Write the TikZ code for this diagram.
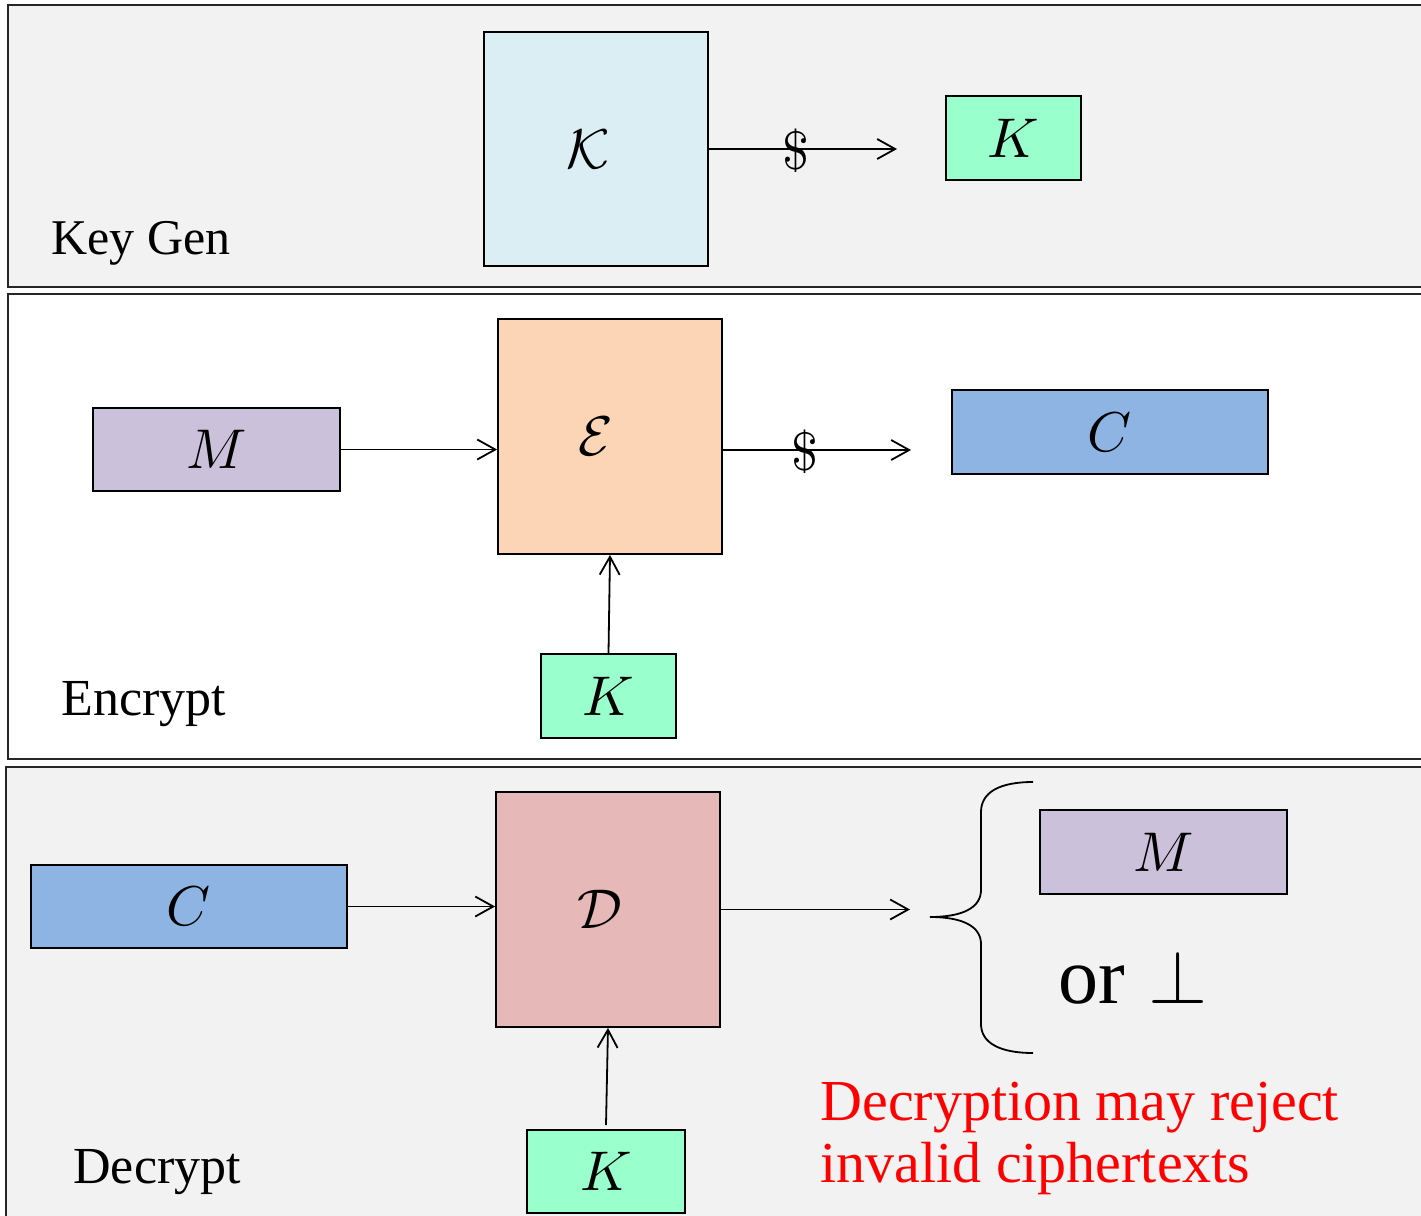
\RequirePackage{fix-cm}
\documentclass[tikz,border=0pt]{standalone}
\usepackage[no-math]{fontspec}
\usepackage{graphicx}
\setmainfont{Liberation Serif}
\usetikzlibrary{arrows.meta}

\definecolor{panelgray}{HTML}{F2F2F2}
\definecolor{kgenblue}{HTML}{DBEEF4}
\definecolor{keygreen}{HTML}{99FFCC}
\definecolor{msgpurple}{HTML}{CCC1DA}
\definecolor{encorange}{HTML}{FBD5B5}
\definecolor{ctblue}{HTML}{8EB4E3}
\definecolor{decpink}{HTML}{E6B9B8}

% math symbols drawn from the 10pt design size, enlarged
\newcommand{\bigsym}[2][2.8]{\scalebox{#1}{$#2$}}

\tikzset{
  panel/.style={draw=black!85, line width=1pt},
  box/.style={draw=black, line width=0.9pt, inner sep=0pt, anchor=center,
              font=\fontsize{10}{12}\selectfont},
  wire/.style={line width=0.9pt,
               -{Straight Barb[length=9pt,width=10pt,line width=0.9pt]}},
  dollar/.style={inner sep=0pt, font=\fontsize{10}{12}\selectfont},
  phase/.style={anchor=base west, inner sep=0pt, font=\fontsize{26}{31}\selectfont},
  note/.style={anchor=base west, inner sep=0pt, text=red, font=\fontsize{29}{31}\selectfont}
}

\begin{document}
\begin{tikzpicture}[x=0.5pt,y=-0.5pt]
\useasboundingbox (0,0) rectangle (1421,1216);
\clip (0,0) rectangle (1421,1216);

% three phase panels
\draw[panel, fill=panelgray] (8,5) rectangle (1460,287);
\draw[panel, fill=white] (8,294) rectangle (1460,759);
\draw[panel, fill=panelgray] (6,767) rectangle (1460,1240);

\node[phase] (lblgen) at (51,254) {\fontsize{25}{30}\selectfont Key Gen};
\node[phase] (lblenc) at (61,715) {Encrypt};
\node[phase] (lbldec) at (73,1183) {Decrypt};

% key generation
\node[box, fill=kgenblue, minimum width=112pt, minimum height=117pt] (kgen) at (596,149) {\hspace*{-8pt}\bigsym{\mathcal{K}}};
\node[box, fill=keygreen, minimum width=67.5pt, minimum height=42pt] (kgenkey) at (1013.5,138) {\bigsym{K}};
\coordinate (kgenout) at (897,149);
\draw[wire] (kgen.east) -- (kgenout);
\node[dollar] (kgenrand) at (796,151) {\bigsym[2.7]{\$}};

% encryption
\node[box, fill=msgpurple, minimum width=123.5pt, minimum height=41.5pt] (encmsg) at (216.5,449.5) {\bigsym{M}};
\node[box, fill=encorange, minimum width=112pt, minimum height=117.5pt] (enc) at (610,436.5) {\hspace*{-14pt}\bigsym{\mathcal{E}}};
\node[box, fill=ctblue, minimum width=158pt, minimum height=42pt] (encct) at (1110,432) {\bigsym{C}};
\node[box, fill=keygreen, minimum width=67.5pt, minimum height=42pt] (enckey) at (608.5,696) {\bigsym{K}};
\draw[wire] (encmsg.east) -- (encmsg.east -| enc.west);
\coordinate (encout) at (911,450);
\draw[wire] (enc.east |- encout) -- (encout);
\node[dollar] (encrand) at (805,452) {\bigsym[2.7]{\$}};
\draw[wire] (enckey.north) -- (enc.south);

% decryption
\node[box, fill=ctblue, minimum width=158pt, minimum height=41.5pt] (decct) at (189,906.5) {\bigsym{C}};
\node[box, fill=decpink, minimum width=112pt, minimum height=117.5pt] (dec) at (608,909.5) {\hspace*{-8pt}\bigsym{\mathcal{D}}};
\node[box, fill=keygreen, minimum width=79pt, minimum height=41.5pt] (deckey) at (606,1171.5) {\bigsym{K}};
\node[box, fill=msgpurple, minimum width=123.5pt, minimum height=42pt] (decmsg) at (1163.5,852) {\bigsym{M}};
\coordinate (decout) at (910,909.5);
\draw[wire] (decct.east) -- (decct.east -| dec.west);
\draw[wire] (dec.east) -- (decout);
\draw[wire] ([yshift=2pt]deckey.north) -- (dec.south);

% brace around the two possible outputs
\draw[line width=0.9pt]
  (1033,782) .. controls (1000,782) and (981,792) .. (981,812)
  -- (981,890) .. controls (981,908) and (962,917) .. (930,917)
  .. controls (962,917) and (981,926) .. (981,944)
  -- (981,1024) .. controls (981,1043) and (1000,1053) .. (1033,1053);

\node[anchor=base west, inner sep=0pt, font=\fontsize{40}{48}\selectfont] (orword) at (1058,1003) {or};
\node[anchor=base west, inner sep=0pt, font=\fontsize{10}{12}\selectfont] (reject) at (1148,1003) {\bigsym[3.8]{\perp}};

\node[note] (note1) at (820,1120) {Decryption may reject};
\node[note] (note2) at (820,1182) {invalid ciphertexts};
\end{tikzpicture}
\end{document}
